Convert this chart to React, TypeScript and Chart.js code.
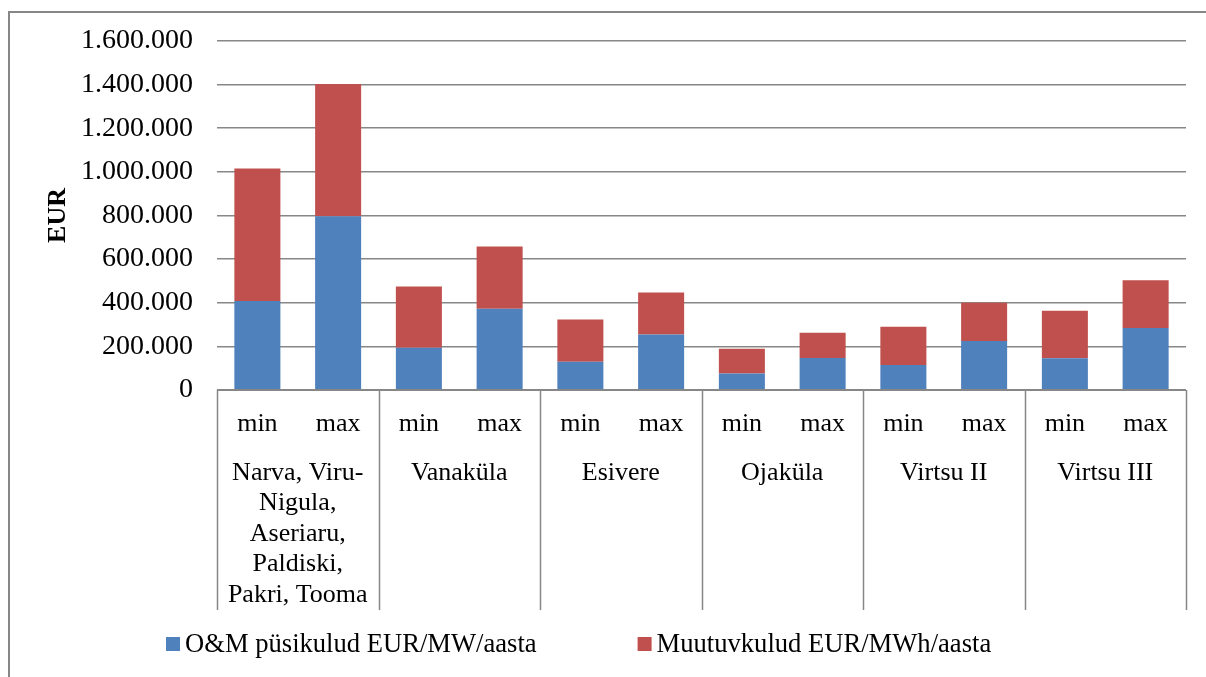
import React, { useEffect, useRef } from "react";
import { Chart, registerables } from "chart.js";

Chart.register(...registerables);

// ---- data ----
const subLabels = ["min", "max", "min", "max", "min", "max", "min", "max", "min", "max", "min", "max"];
const groupLabels: string[][] = [
  ["Narva, Viru-", "Nigula,", "Aseriaru,", "Paldiski,", "Pakri, Tooma"],
  ["Vanaküla"],
  ["Esivere"],
  ["Ojaküla"],
  ["Virtsu II"],
  ["Virtsu III"],
];
const seriesNames = ["O&M püsikulud EUR/MW/aasta", "Muutuvkulud EUR/MWh/aasta"];
const omFixed = [408000, 797000, 194000, 373000, 130000, 254000, 76000, 147000, 115000, 225000, 145000, 284000];
const variableCosts = [608000, 606000, 280000, 285000, 193000, 193000, 113000, 115000, 175000, 175000, 218000, 219000];
const yTicks = [0, 200000, 400000, 600000, 800000, 1000000, 1200000, 1400000, 1600000];

const COLORS = ["#4F81BD", "#C0504D"];
const FONT = "'Liberation Serif', 'Times New Roman', serif";
const LINE = "#878787";

function fmt(v: number): string {
  const s = Math.round(v).toString();
  return s.replace(/\B(?=(\d{3})+(?!\d))/g, ".");
}

const decorPlugin = {
  id: "decor",
  afterDraw(chart: any) {
    const ctx: CanvasRenderingContext2D = chart.ctx;
    const xs = chart.scales.x;
    const area = chart.chartArea;
    ctx.save();
    // outer border (only top & left are inside the picture)
    ctx.strokeStyle = LINE;
    ctx.lineWidth = 2;
    ctx.beginPath();
    ctx.moveTo(9, 1300);
    ctx.lineTo(9, 12);
    ctx.lineTo(1300, 12);
    ctx.stroke();

    // axis line
    ctx.lineWidth = 2;
    ctx.beginPath();
    ctx.moveTo(area.left, area.bottom);
    ctx.lineTo(area.right, area.bottom);
    ctx.stroke();

    // group separators
    const bounds: number[] = [area.left];
    for (let g = 0; g < groupLabels.length - 1; g++) {
      const a = xs.getPixelForValue(2 * g + 1);
      const b = xs.getPixelForValue(2 * g + 2);
      bounds.push((a + b) / 2);
    }
    bounds.push(area.right);
    ctx.lineWidth = 1.5;
    ctx.beginPath();
    for (const bx of bounds) {
      const px = Math.round(bx) + 0.5;
      ctx.moveTo(px, area.bottom);
      ctx.lineTo(px, 610);
    }
    ctx.stroke();

    // labels
    ctx.fillStyle = "#000";
    ctx.font = `26px ${FONT}`;
    ctx.textAlign = "center";
    ctx.textBaseline = "middle";
    subLabels.forEach((t, i) => {
      ctx.fillText(t, xs.getPixelForValue(i), 424);
    });
    groupLabels.forEach((lines, g) => {
      const cx = (bounds[g] + bounds[g + 1]) / 2;
      lines.forEach((t, k) => {
        ctx.fillText(t, cx, 473 + k * 30.5);
      });
    });

    // legend
    ctx.font = `26.6px ${FONT}`;
    ctx.textAlign = "left";
    let x = 166;
    seriesNames.forEach((name, i) => {
      ctx.fillStyle = COLORS[i];
      ctx.fillRect(x, 637, 14, 14);
      ctx.fillStyle = "#000";
      ctx.fillText(name, x + 19, 645);
      x += 19 + ctx.measureText(name).width + 101;
    });
    ctx.restore();
  },
};

export default function App() {
  const ref = useRef<HTMLCanvasElement>(null);

  useEffect(() => {
    if (!ref.current) return;
    const chart = new Chart(ref.current, {
      type: "bar",
      data: {
        labels: subLabels.map((s, i) => `${s}${i}`),
        datasets: [
          {
            label: seriesNames[0],
            data: omFixed,
            backgroundColor: COLORS[0],
            barPercentage: 0.57,
            categoryPercentage: 1,
          },
          {
            label: seriesNames[1],
            data: variableCosts,
            backgroundColor: COLORS[1],
            barPercentage: 0.57,
            categoryPercentage: 1,
          },
        ],
      },
      options: {
        responsive: false,
        animation: false,
        devicePixelRatio: 1,
        layout: { padding: { top: 41, right: 20, left: 0, bottom: 0 } },
        plugins: {
          legend: { display: false },
          tooltip: { enabled: false },
        },
        scales: {
          x: {
            stacked: true,
            ticks: { display: false },
            grid: { display: false },
            border: { display: false },
            afterFit: (s: any) => {
              s.height = 677 - 390;
            },
          },
          y: {
            stacked: true,
            min: 0,
            max: 1600000,
            afterBuildTicks: (s: any) => {
              s.ticks = yTicks.map((v) => ({ value: v }));
            },
            ticks: {
              padding: 24,
              color: "#000",
              font: { family: FONT, size: 28 },
              callback: (v: any) => fmt(Number(v)),
            },
            grid: { color: LINE, lineWidth: 1.6, drawTicks: false },
            border: { display: false },
            title: {
              display: true,
              text: "EUR",
              color: "#000",
              font: { family: FONT, size: 26, weight: "bold", lineHeight: 1 },
              padding: { top: 45, bottom: 0 },
            },
            afterFit: (s: any) => {
              s.width = 217;
            },
          },
        },
      },
      plugins: [decorPlugin],
    });
    return () => chart.destroy();
  }, []);

  return (
    <div style={{ position: "absolute", left: 0, top: 0, width: 1206, height: 677, background: "#fff" }}>
      <canvas ref={ref} width={1206} height={677} style={{ display: "block" }} />
    </div>
  );
}
